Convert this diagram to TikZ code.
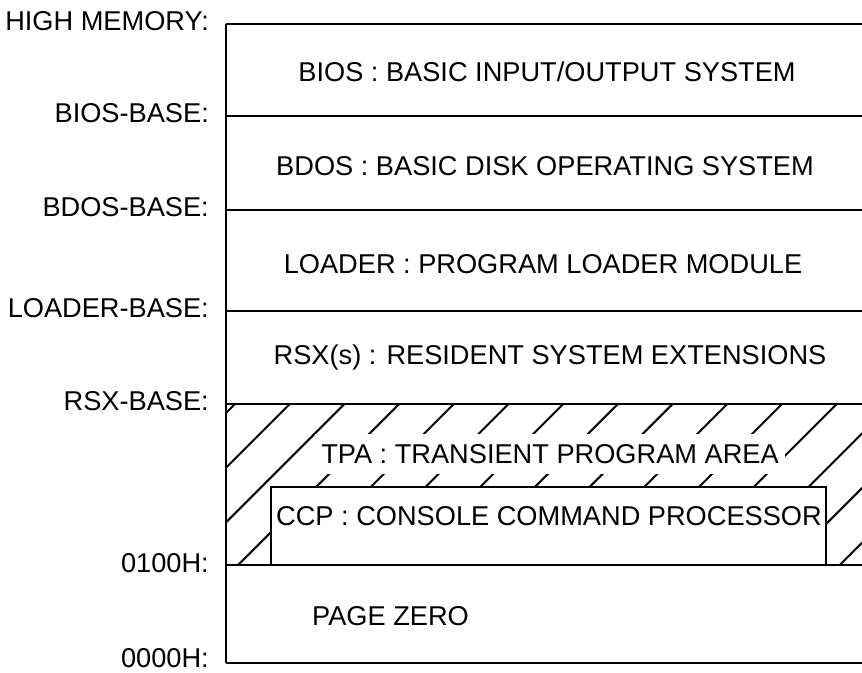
\documentclass[tikz,border=0pt]{standalone}
\usepackage{fontspec}
\setmainfont{Liberation Sans}
\begin{document}
\begin{tikzpicture}[x=1pt,y=-1pt,
  lbl/.style={anchor=east,inner sep=0pt,font=\fontsize{27.2}{30}\selectfont},
  txt/.style={inner sep=0pt,font=\fontsize{27.2}{30}\selectfont},
  rule/.style={line width=2.4pt},
  hatch/.style={line width=2pt}]
\useasboundingbox (0,0) rectangle (862,672);
% hatching of TPA region
\begin{scope}
  \clip (226,404) rectangle (862,565);
  \foreach \i in {0,...,15}{
    \pgfmathsetmacro{\c}{639+54.7*\i}
    \draw[hatch] ({\c-565},565) -- ({\c-404},404);
  }
\end{scope}
% TPA text with white background to interrupt hatching
\node[txt,fill=white,inner xsep=6pt,inner ysep=10pt] (tpa) at (550,454) {TPA : TRANSIENT PROGRAM AREA};
% CCP box
\draw[rule,fill=white] (271,565) -- (271,487) -- (826,487) -- (826,565);
\node[txt] (ccp) at (549,516) {CCP : CONSOLE COMMAND PROCESSOR};
% frame and boundaries
\draw[rule] (226,24) -- (226,663);
\foreach \y in {24,116,210,311,404,565,663}{
  \draw[rule] (226,\y) -- (862,\y);
}
% left labels
\node[lbl] (hm) at (209,21) {HIGH MEMORY:};
\node[lbl] (bb) at (209,113) {BIOS-BASE:};
\node[lbl] (db) at (209,207) {BDOS-BASE:};
\node[lbl] (lb) at (209,308) {LOADER-BASE:};
\node[lbl] (rb) at (209,401) {RSX-BASE:};
\node[lbl] (p1) at (209,563) {0100H:};
\node[lbl] (p0) at (209,658) {0000H:};
% contents
\node[txt] (bios) at (547,72) {BIOS : BASIC INPUT/OUTPUT SYSTEM};
\node[txt] (bdos) at (545,166) {BDOS : BASIC DISK OPERATING SYSTEM};
\node[txt] (ldr) at (543,264) {LOADER : PROGRAM LOADER MODULE};
\node[txt] (rsx) at (550,357) {RSX(s) : RESIDENT SYSTEM EXTENSIONS};
\node[txt,anchor=west] (pz) at (312,616) {PAGE ZERO};
\end{tikzpicture}
\end{document}
